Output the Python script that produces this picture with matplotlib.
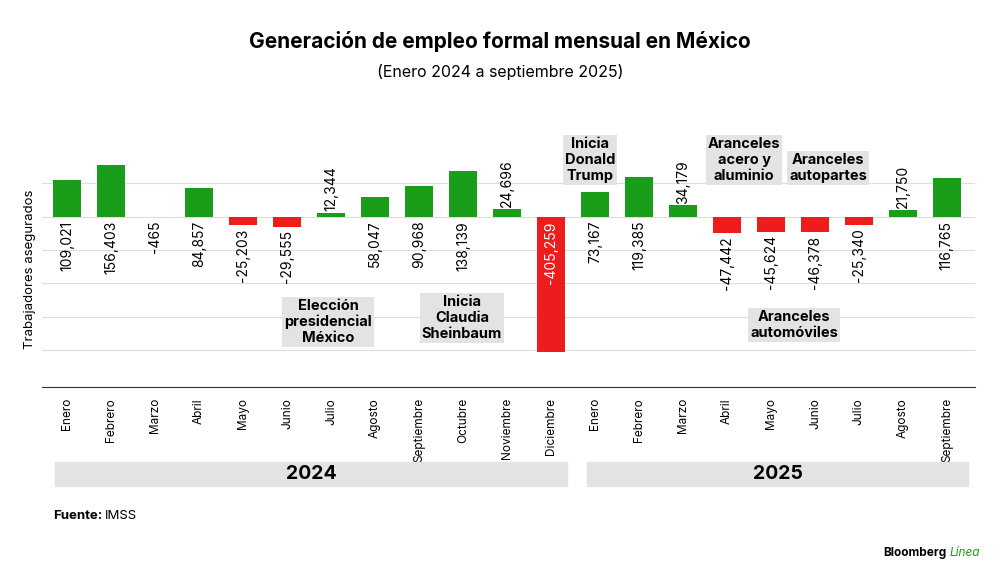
import matplotlib
matplotlib.use("Agg")
import matplotlib.pyplot as plt
from matplotlib.patches import Rectangle

months = ["Enero", "Febrero", "Marzo", "Abril", "Mayo", "Junio", "Julio", "Agosto",
          "Septiembre", "Octubre", "Noviembre", "Diciembre",
          "Enero", "Febrero", "Marzo", "Abril", "Mayo", "Junio", "Julio", "Agosto",
          "Septiembre"]
values = [109021, 156403, -465, 84857, -25203, -29555, 12344, 58047, 90968, 138139,
          24696, -405259, 73167, 119385, 34179, -47442, -45624, -46378, -25340, 21750,
          116765]
label_above = [6, 10, 14, 19]

GREEN = "#1a9e1a"
RED = "#ee1c1c"
BOXC = "#e3e3e3"

plt.rcParams["font.family"] = ["Inter", "DejaVu Sans"]
fig = plt.figure(figsize=(10, 5.8), dpi=100)
ax = fig.add_axes([0.042, 0.333, 0.933, 0.46])

x = list(range(len(values)))
colors = [GREEN if v >= 0 else RED for v in values]
ax.bar(x, values, width=0.64, color=colors, zorder=3)
ax.set_xlim(-0.57, 20.64)
ax.set_ylim(-510000, 290000)
ax.set_yticks([-400000, -300000, -200000, -100000, 0, 100000])
ax.grid(axis="y", color="#dddddd", lw=0.8, zorder=0)
ax.set_yticklabels([])
ax.tick_params(axis="y", length=0)
ax.tick_params(axis="x", length=0, pad=8)
ax.set_xticks(x)
ax.set_xticklabels(months, rotation=90, va="top", fontsize=8.5)
for s in ["top", "right", "left"]:
    ax.spines[s].set_visible(False)
ax.spines["bottom"].set_color("#333333")

for i, v in enumerate(values):
    txt = f"{v:,}"
    if i == 11:
        ax.text(i, v * 0.03 - 3000, txt, rotation=90, ha="center", va="top",
                color="white", fontsize=10, zorder=4)
    elif i in label_above:
        ax.text(i, v + 5000, txt, rotation=90, ha="center", va="bottom", fontsize=10)
    elif v >= 0:
        ax.text(i, -12000, txt, rotation=90, ha="center", va="top", fontsize=10)
    else:
        ax.text(i, v - 10000, txt, rotation=90, ha="center", va="top", fontsize=10)

fig.text(0.03, 0.535, "Trabajadores asegurados", rotation=90, ha="center", va="center",
         fontsize=9.5)

# year bands
for x0, x1, yr in [(0.055, 0.567, "2024"), (0.587, 0.968, "2025")]:
    fig.patches.append(Rectangle((x0, 1 - 486 / 580), x1 - x0, 24 / 580,
                                 transform=fig.transFigure, color=BOXC, zorder=0))
    fig.text((x0 + x1) / 2, 1 - 474 / 580, yr, ha="center", va="center",
             fontsize=14, fontweight="bold")

notes = [
    (590, 160, "Inicia\nDonald\nTrump"),
    (744, 160, "Aranceles\nacero y\naluminio"),
    (828, 168, "Aranceles\nautopartes"),
    (328, 322, "Elección\npresidencial\nMéxico"),
    (462, 318, "Inicia\nClaudia\nSheinbaum"),
    (794, 325, "Aranceles\nautomóviles"),
]
for px, py, t in notes:
    fig.text(px / 1000, 1 - py / 580, t, ha="center", va="center", fontsize=10.5,
             fontweight="bold", linespacing=1.15,
             bbox=dict(boxstyle="square,pad=0.15", fc=BOXC, ec="none"))

fig.text(0.5, 1 - 42 / 580, "Generación de empleo formal mensual en México",
         ha="center", va="center", fontsize=15, fontweight="bold")
fig.text(0.5, 1 - 72 / 580, "(Enero 2024 a septiembre 2025)", ha="center",
         va="center", fontsize=11.5)
fig.text(0.053, 1 - 516 / 580, "Fuente:", fontweight="bold", fontsize=9.5, va="center")
fig.text(0.105, 1 - 516 / 580, "IMSS", fontsize=9.5, va="center")
fig.text(0.946, 1 - 553 / 580, "Bloomberg", fontweight="bold", fontsize=8.5,
         va="center", ha="right")
fig.text(0.949, 1 - 553 / 580, "Línea", fontsize=8.5, color=GREEN, va="center",
         ha="left", fontstyle="italic")

fig.savefig("out.png", dpi=100)
